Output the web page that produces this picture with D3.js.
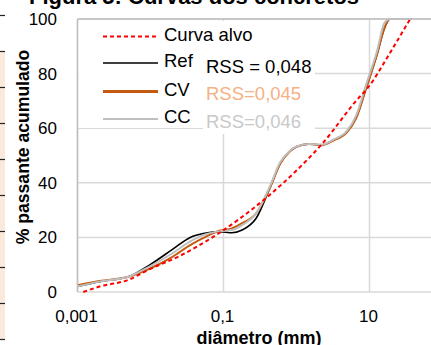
<!DOCTYPE html>
<html><head><meta charset="utf-8">
<script src="https://cdn.jsdelivr.net/npm/d3@7/dist/d3.min.js"></script>
<style>html,body{margin:0;padding:0;background:#fff;overflow:hidden}svg{display:block}</style>
</head><body>
<svg id="c" width="431" height="345"></svg>
<script>
// ---- data ----
const sizes = [0.001, 0.002, 0.005, 0.01, 0.02, 0.035, 0.055, 0.09, 0.13, 0.18, 0.28, 0.43, 0.6, 0.8, 1.0, 1.5, 2.2, 3.2, 4.9, 6.6, 9.1, 12.6, 16, 19, 25, 37.5];
const refValues = [2.0, 3.8, 5.6, 10.1, 15.6, 20.0, 21.5, 22.1, 21.7, 22.7, 27.0, 38.0, 47.1, 51.4, 53.2, 54.2, 53.8, 55.7, 58.7, 64.0, 75.2, 86.8, 96.6, 100, 100, 100];
const cvValues  = [2.5, 4.0, 5.6, 8.7, 12.9, 17.2, 20.0, 22.5, 23.3, 25.2, 28.8, 38.0, 47.1, 51.4, 53.2, 54.2, 53.8, 55.5, 58.5, 63.8, 75.0, 86.8, 96.6, 100, 100, 100];
const ccValues  = [2.0, 3.8, 5.6, 9.5, 14.2, 18.5, 21.0, 22.3, 22.7, 24.5, 28.8, 38.6, 47.6, 51.6, 53.3, 54.2, 54.0, 55.8, 59.0, 64.8, 76.4, 88.0, 98.5, 100, 100, 100];
const targetSizes  = [0.0012, 0.002, 0.0049, 0.01, 0.0238, 0.0675, 0.158, 0.397, 1.0, 2.3, 6.7, 9.3, 20, 36];
const targetValues = [0, 2.0, 4.4, 8.5, 12.9, 19.7, 26.4, 34.8, 44.5, 54.6, 70.3, 74.5, 88.5, 100];
const xTicks = [0.001, 0.1, 10];
const xTickLabels = ["0,001", "0,1", "10"];
const yTicks = [0, 20, 40, 60, 80, 100];
const seriesNames = ["Curva alvo", "Ref", "CV", "CC"];
const rssLabels = ["RSS = 0,048", "RSS=0,045", "RSS=0,046"];
const title = "Figura 5: Curvas dos concretos";
const xTitle = "diâmetro (mm)";
const yTitle = "% passante acumulado";

// ---- layout ----
const svg = d3.select("#c");
const L = 77.5, T = 19, B = 292;
const x = d3.scaleLog().domain([0.001, 100]).range([L, L + 73 * 5]);
const y = d3.scaleLinear().domain([0, 100]).range([B, T]);
const R = x(100);
const font = "'Liberation Sans', Arial, sans-serif";

// left decorative strip
svg.append("rect").attr("x", 0).attr("y", 52).attr("width", 5).attr("height", 288).attr("fill", "#FBE9DC");
svg.selectAll("line.strip").data(d3.range(10)).enter().append("line")
  .attr("x1", 0).attr("x2", 5).attr("y1", i => 15.5 + i * 36).attr("y2", i => 15.5 + i * 36)
  .attr("stroke", "#222").attr("stroke-width", 1.2);

// gridlines
const g = svg.append("g");
g.selectAll("line.hg").data(yTicks).enter().append("line")
  .attr("x1", L).attr("x2", R).attr("y1", d => y(d)).attr("y2", d => y(d))
  .attr("stroke", "#D9D9D9").attr("stroke-width", 1.5);
g.selectAll("line.vg").data(xTicks).enter().append("line")
  .attr("x1", d => x(d)).attr("x2", d => x(d)).attr("y1", T).attr("y2", B)
  .attr("stroke", "#D9D9D9").attr("stroke-width", 1.5);

// legend background (white box)
svg.append("rect").attr("x", L + 1).attr("y", T + 2).attr("width", 198).attr("height", 107).attr("fill", "#fff");
// RSS text boxes
const rssColors = ["#000000", "#F4B183", "#C9C9C9"];
const rssY = [66.5, 94, 122];
svg.selectAll("rect.rssbg").data(rssLabels).enter().append("rect")
  .attr("x", 203).attr("y", (d, i) => rssY[i] - 12).attr("width", 112).attr("height", 24).attr("fill", "#fff");

// axes labels
svg.selectAll("text.yt").data(yTicks).enter().append("text")
  .attr("x", 57).attr("y", d => y(d)).attr("dy", "0.35em").attr("text-anchor", "end")
  .attr("font-family", font).attr("font-size", 17).attr("fill", "#000").text(d => d);
svg.selectAll("text.xt").data(xTicks).enter().append("text")
  .attr("x", d => x(d) - 1).attr("y", 316).attr("dy", "0.35em").attr("text-anchor", "middle")
  .attr("font-family", font).attr("font-size", 17).attr("fill", "#000").text((d, i) => xTickLabels[i]);

// curves
const line = (xs) => d3.line().x((d, i) => x(xs[i])).y(d => y(d)).curve(d3.curveMonotoneX);
const series = [
  {vals: refValues, color: "#000000", w: 1.6},
  {vals: cvValues, color: "#C55A11", w: 2},
  {vals: ccValues, color: "#BFBFBF", w: 2}
];
series.forEach(s => {
  svg.append("path").attr("d", line(sizes)(s.vals)).attr("fill", "none")
    .attr("stroke", s.color).attr("stroke-width", s.w);
});
svg.append("path").attr("d", line(targetSizes)(targetValues)).attr("fill", "none")
  .attr("stroke", "#FF0000").attr("stroke-width", 2).attr("stroke-dasharray", "4,3");

// plot border (top/left)
svg.append("line").attr("x1", L).attr("x2", R).attr("y1", T).attr("y2", T).attr("stroke", "#BFBFBF").attr("stroke-width", 1.5);
svg.append("line").attr("x1", L).attr("x2", L).attr("y1", T).attr("y2", B).attr("stroke", "#BFBFBF").attr("stroke-width", 1.5);

// legend
const legY = [36.5, 63, 91.5, 119];
const legStyle = [
  {c: "#FF0000", w: 2, dash: "4,3"},
  {c: "#000000", w: 1.6, dash: null},
  {c: "#C55A11", w: 3, dash: null},
  {c: "#BFBFBF", w: 2, dash: null}
];
seriesNames.forEach((n, i) => {
  svg.append("line").attr("x1", 103).attr("x2", 158).attr("y1", legY[i]).attr("y2", legY[i])
    .attr("stroke", legStyle[i].c).attr("stroke-width", legStyle[i].w)
    .attr("stroke-dasharray", legStyle[i].dash);
  svg.append("text").attr("x", 164).attr("y", legY[i] - 2).attr("dy", "0.35em")
    .attr("font-family", font).attr("font-size", 18.5).attr("fill", "#000").text(n);
});
rssLabels.forEach((t, i) => {
  svg.append("text").attr("x", 206).attr("y", rssY[i]).attr("dy", "0.35em")
    .attr("font-family", font).attr("font-size", 18.5).attr("fill", rssColors[i]).text(t);
});

// titles
svg.append("text").attr("x", 29).attr("y", 4).attr("font-family", font).attr("font-weight", "bold")
  .attr("font-size", 22).attr("fill", "#000").text(title);
svg.append("text").attr("x", 259).attr("y", 344).attr("text-anchor", "middle").attr("font-family", font)
  .attr("font-weight", "bold").attr("font-size", 18).attr("fill", "#000").text(xTitle);
svg.append("text").attr("transform", "translate(29,147) rotate(-90)").attr("text-anchor", "middle")
  .attr("font-family", font).attr("font-weight", "bold").attr("font-size", 17.6).attr("fill", "#000").text(yTitle);
</script>
</body></html>
